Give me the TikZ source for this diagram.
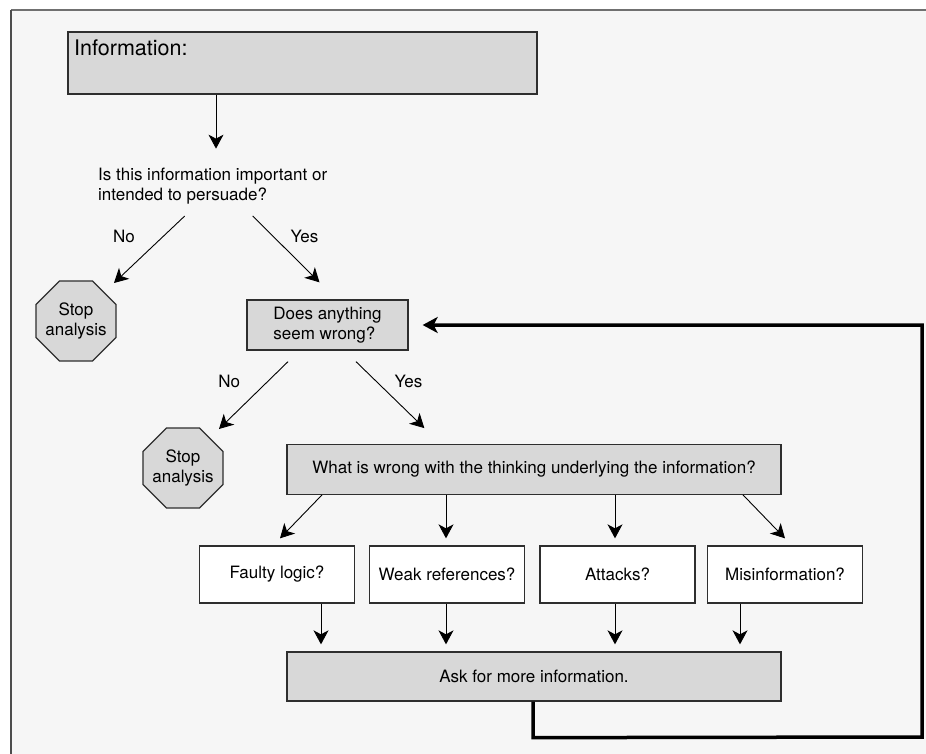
\documentclass[tikz,border=0pt]{standalone}
\usepackage{fontspec}
\setmainfont{TeX Gyre Heros}
\usetikzlibrary{
  arrows.meta,
  positioning,
  shapes.geometric,
  calc
}
\usepackage{xcolor}
\definecolor{panelGray}{HTML}{F6F6F6}
\definecolor{boxGray}{HTML}{D8D8D8}
\definecolor{edgeGray}{HTML}{2E2E2E}
\definecolor{frameGray}{HTML}{707070}
\newcommand{\chartfont}{\fontsize{17}{19.5}\selectfont}
\tikzset{
  grayBox/.style={
    draw=edgeGray,
    line width=1.3pt,
    fill=boxGray,
    inner sep=0pt
  },
  checkBox/.style={
    grayBox,
    fill=white,
    minimum width=155pt,
    minimum height=57pt
  },
  stopSign/.style={
    regular polygon,
    regular polygon sides=8,
    minimum size=86.6pt,
    inner sep=-12pt,
    draw=edgeGray,
    line width=1.3pt,
    fill=boxGray,
    align=center
  },
  flow/.style={
    -{Stealth[length=14pt,width=15pt,inset=4pt]},
    line width=0.9pt
  },
  loopBack/.style={
    -{Stealth[length=15pt,width=16pt,inset=4pt]},
    line width=3.5pt
  }
}

\begin{document}
\begin{tikzpicture}[
    x=1pt, y=-1pt,
    every node/.style={font=\chartfont}
  ]
  \useasboundingbox (0,0) rectangle (926,754);

  % panel behind the chart
  \fill[panelGray] (11,10) rectangle (927,755);
  \draw[frameGray, line width=1.6pt] (927,10) -- (11,10);
  \draw[edgeGray!85, line width=1.6pt] (11,10) -- (11,755);

  % boxes
  \node[grayBox, minimum width=469pt, minimum height=62pt] (info) at (302.5,63) {};
  \node[anchor=base west, inner sep=0pt, font=\fontsize{21.5}{24}\selectfont]
    (infoLabel) at (74,56) {Information:};
  \node[anchor=north west, align=left, inner sep=0pt]
    (question) at (98,168) {Is this information important or\\intended to persuade?};
  \node[stopSign] (stop1) at (76,321) {Stop\\analysis};
  \node[grayBox, minimum width=161pt, minimum height=50pt, align=left]
    (doubt) at (327.5,325) {Does anything\\seem wrong?};
  \node[stopSign] (stop2) at (183,468) {Stop\\analysis};
  \node[grayBox, minimum width=494pt, minimum height=49.5pt]
    (flaw) at (534,469.5) {What is wrong with the thinking underlying the information?};
  \node[grayBox, minimum width=494pt, minimum height=49pt]
    (ask) at (534,676.5) {Ask for more information.};

  % decisions
  \draw[flow] ($(info.south)+(-86.5,0)$) -- ($(info.south)+(-86.5,54)$);
  \draw[flow] ($(question.south)+(-28,12)$) -- ($(stop1.center)+(38,-38)$)
    node[midway, above left=6pt and 14pt, inner sep=0pt] {No};
  \draw[flow] ($(question.south)+(40,12)$) -- ($(doubt.north)+(-8,-17)$)
    node[midway, above right=6pt and 4pt, inner sep=0pt] {Yes};
  \draw[flow] ($(doubt.south)+(-39.5,11)$) -- ($(stop2.center)+(36,-39)$)
    node[midway, above left=7pt and 13pt, inner sep=0pt] {No};
  \draw[flow] ($(doubt.south)+(28.5,11)$) -- ($(flaw.north west)+(138,-16)$)
    node[midway, above right=7pt and 4pt, inner sep=0pt] {Yes};

  % the four checks
  \foreach \name/\txt/\cx/\fx/\tx/\bx in {
      faulty/Faulty logic?/277/322/280/321,
      weak/Weak references?/447/446/446/446,
      attacks/Attacks?/617.5/615/615/615,
      misinfo/Misinformation?/785/743/785/740}{
    \node[checkBox] (\name) at (\cx,574.5) {\txt};
    \draw[flow] (flaw.south -| \fx,0) -- ($(\name.north -| \tx,0)+(0,-7)$);
    \draw[flow] (\name.south -| \bx,0) -- ($(ask.north -| \bx,0)+(0,-7)$);
  }

  % back to the question
  \draw[loopBack] ($(ask.south)+(-1,0)$) -- ++(0,36) -- (922,737)
    |- ($(doubt.east)+(14,0)$);
\end{tikzpicture}
\end{document}
